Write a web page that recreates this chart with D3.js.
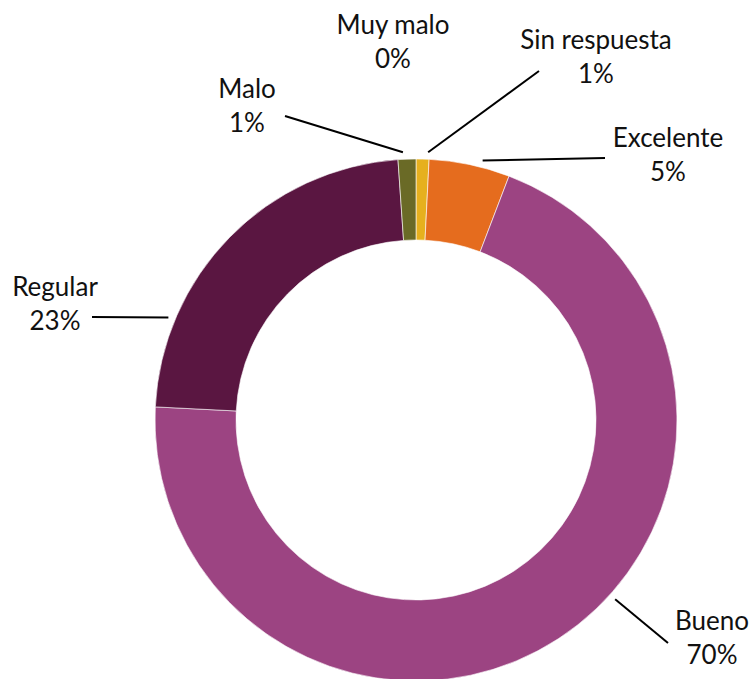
<!DOCTYPE html>
<html>
<head>
<meta charset="utf-8">
<script src="https://cdn.jsdelivr.net/npm/d3@7"></script>
<style>
  body { margin: 0; background: #fff; }
  svg text { font-family: Lato, "Open Sans", sans-serif; font-size: 26px; fill: #111; }
</style>
</head>
<body>
<div id="chart"></div>
<script>
// Slices in drawing order, clockwise from 12 o'clock
const categories = ["Sin respuesta", "Excelente", "Bueno", "Regular", "Malo", "Muy malo"];
const values = [0.8, 5.0, 70.0, 23.1, 1.1, 0.0];
const colors = ["#e6b01e", "#e56c1e", "#9c4482", "#5a1641", "#6a6a26", "#7a7a30"];

// Label placement (text centre x, first baseline y) and where the leader line meets the ring
const labelLayout = {
  "Sin respuesta": { x: 596, y: 49, line: [539, 71], angle: 2.6 },
  "Excelente": { x: 668, y: 147, line: [605, 158], angle: 14.4 },
  "Bueno": { x: 712, y: 630, line: [668, 643], angle: 132 },
  "Regular": { x: 55, y: 296, line: [92, 317], angle: 292.5 },
  "Malo": { x: 247, y: 98, line: [285, 116], angle: 357.2 },
  "Muy malo": { x: 393, y: 34, line: null }
};

const width = 749, height = 679;
const cx = 416, cy = 420;
const outerR = 261, innerR = 180;

const data = categories.map((c, i) => ({ name: c, value: values[i], color: colors[i] }));

const svg = d3.select("#chart").append("svg")
  .attr("width", width)
  .attr("height", height);

const g = svg.append("g")
  .attr("transform", `translate(${cx},${cy})`);

const pie = d3.pie()
  .value(d => d.value)
  .sort(null);

const arc = d3.arc()
  .innerRadius(innerR)
  .outerRadius(outerR);

// Donut slices
g.selectAll(".slice")
  .data(pie(data).filter(d => d.data.value > 0))
  .enter().append("path")
  .attr("class", "slice")
  .attr("d", arc)
  .attr("fill", d => d.data.color)
  .attr("stroke", "#fff")
  .attr("stroke-width", 0.6);

// Leader lines
data.forEach(d => {
  const lay = labelLayout[d.name];
  if (!lay.line) return;
  const p = d3.pointRadial(lay.angle * Math.PI / 180, 268);
  svg.append("line")
    .attr("x1", lay.line[0])
    .attr("y1", lay.line[1])
    .attr("x2", cx + p[0])
    .attr("y2", cy + p[1])
    .attr("stroke", "#000")
    .attr("stroke-width", 2);
});

// Labels: name and rounded percentage
const labels = svg.selectAll(".label")
  .data(data)
  .enter().append("text")
  .attr("class", "label")
  .attr("text-anchor", "middle")
  .attr("x", d => labelLayout[d.name].x)
  .attr("y", d => labelLayout[d.name].y);

labels.append("tspan")
  .attr("x", d => labelLayout[d.name].x)
  .text(d => d.name);

labels.append("tspan")
  .attr("x", d => labelLayout[d.name].x)
  .attr("dy", 34)
  .text(d => Math.round(d.value) + "%");
</script>
</body>
</html>
